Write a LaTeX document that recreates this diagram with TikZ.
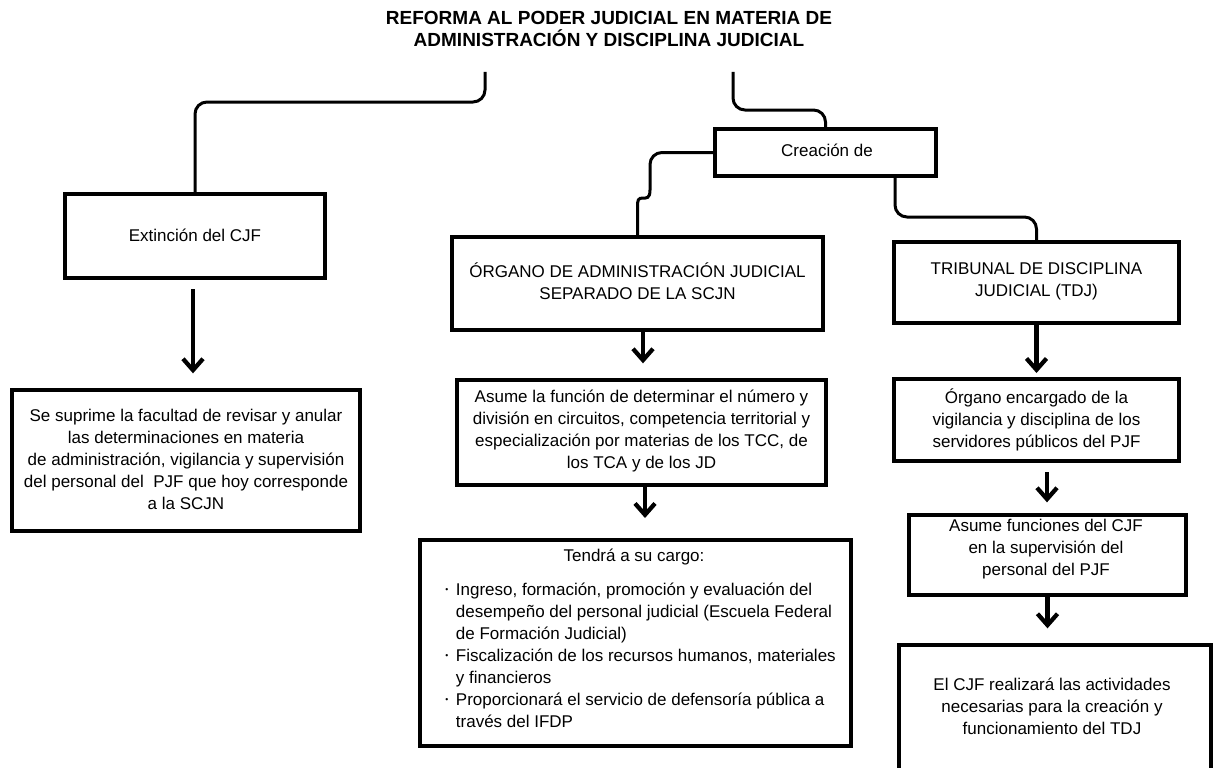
\documentclass[tikz,border=0pt]{standalone}
\usepackage{fontspec}
\setmainfont{Liberation Sans}
\usetikzlibrary{arrows.meta,calc}
\newcommand\bul{\makebox[8pt][l]{\raisebox{0.35ex}{\scalebox{0.5}{•}}}}
\newcommand\nob{\makebox[8pt][l]{}}
\begin{document}
\begin{tikzpicture}[x=0.75pt,y=-0.75pt,
  box/.style={draw, line width=3pt, inner sep=0pt},
  bx/.style 2 args={box, minimum width=#1*0.75pt, minimum height=#2*0.75pt},
  txt/.style={align=center, inner sep=0pt, font=\fontsize{12.75pt}{16.5pt}\selectfont},
  ttl/.style={align=center, inner sep=0pt, font=\bfseries\fontsize{14.25pt}{16.5pt}\selectfont},
  conn/.style={line width=2.25pt, rounded corners=9pt},
  arr/.style={line width=3.2pt, -{Straight Barb[length=8.5pt,width=15pt]}}]
\fill[white] (0,0) rectangle (1220,767);
\useasboundingbox (0,0) rectangle (1220,767);
\clip (0,0) rectangle (1220,767);

% title
\node[ttl] (title) at (609,29) {REFORMA AL PODER JUDICIAL EN MATERIA DE\\ADMINISTRACIÓN Y DISCIPLINA JUDICIAL};
\coordinate (t1) at (485,72);
\coordinate (t2) at (733,72);

% boxes
\node[bx={260}{84}] (ext) at (195,236) {};
\node[bx={348}{141}] (sup) at (186,460.5) {};
\node[bx={221}{47}] (cre) at (825.5,152.5) {};
\node[bx={371}{93}] (org) at (637.5,283.5) {};
\node[bx={369}{105}] (asu) at (641.5,432.5) {};
\node[bx={431}{206}] (ten) at (635.5,643) {};
\node[bx={285}{81}] (tri) at (1036.5,282.5) {};
\node[bx={285}{82}] (vig) at (1036.5,420) {};
\node[bx={277}{80}] (fun) at (1047.5,555) {};
\node[bx={312}{150}] (cjf) at (1055,720) {};

% texts
\node[txt] (ext-t) at (195,235) {Extinción del CJF};
\node[txt] (sup-t) at (186,459) {Se suprime la facultad de revisar y anular\\las determinaciones en materia\\de administración, vigilancia y supervisión\\del personal del\ \ PJF que hoy corresponde\\a la SCJN};
\node[txt] (cre-t) at (827,150) {Creación de};
\node[txt] (org-t) at (637.5,281) {ÓRGANO DE ADMINISTRACIÓN JUDICIAL\\SEPARADO DE LA SCJN};
\node[txt] (asu-t) at (641.5,431) {Asume la función de determinar el número y\\división en circuitos, competencia territorial y\\especialización por materias de los TCC, de\\los TCA y de los JD};
\node[txt] (ten-t) at (634,557) {Tendrá a su cargo:};
\node[txt, align=left, anchor=west] (ten-l) at (445,655) {\bul Ingreso, formación, promoción y evaluación del\\
\nob desempeño del personal judicial (Escuela Federal\\
\nob de Formación Judicial)\\
\bul Fiscalización de los recursos humanos, materiales\\
\nob y financieros\\
\bul Proporcionará el servicio de defensoría pública a\\
\nob través del IFDP};
\node[txt] (tri-t) at (1036.5,281.5) {TRIBUNAL DE DISCIPLINA\\JUDICIAL (TDJ)};
\node[txt] (vig-t) at (1036.5,420) {Órgano encargado de la\\vigilancia y disciplina de los\\servidores públicos del PJF};
\node[txt] (fun-t) at (1046,549) {Asume funciones del CJF\\en la supervisión del\\personal del PJF};
\node[txt] (cjf-t) at (1052,706) {El CJF realizará las actividades\\necesarias para la creación y\\funcionamiento del TDJ};

% connectors
\draw[conn] (t1) -- (485,102) -- (195,102) -- (ext.north);
\draw[conn] (t2) -- (733,110) -- (825.5,110) -- (cre.north);
\draw[conn] (cre.west) -- (650,152.5) -- (650,190);
\draw[line width=2.25pt] (650,190) .. controls (650,199) and (646,198) .. (643,198) .. controls (638,198) and (637.5,200) .. (637.5,207) -- (org.north);
\draw[conn] ($(cre.south)+(69.5,0)$) -- (895,217) -- (1036.5,217) -- (tri.north);

% arrows
\draw[arr, shorten <=6.75pt, shorten >=11pt] ($(ext.south)+(-2,0)$) -- ($(ext.south |- sup.north)+(-2,0)$);
\draw[arr, shorten >=11pt] ($(org.south)+(5.5,0)$) -- ($(org.south |- asu.north)+(5.5,0)$);
\draw[arr, shorten >=15pt] ($(asu.south)+(3.5,0)$) -- ($(asu.south |- ten.north)+(3.5,0)$);
\draw[arr, shorten >=3pt] (tri.south) -- (tri.south |- vig.north);
\draw[arr, shorten <=7pt, shorten >=8pt] ($(vig.south)+(10.5,0)$) -- ($(vig.south |- fun.north)+(10.5,0)$);
\draw[arr, shorten >=11pt] (fun.south) -- (fun.south |- cjf.north);
\end{tikzpicture}
\end{document}
